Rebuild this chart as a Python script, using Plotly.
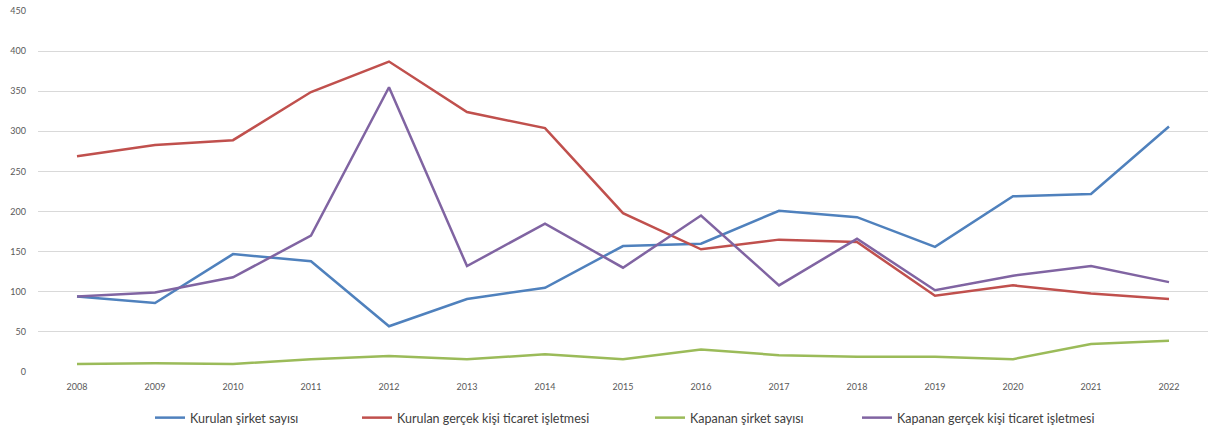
import plotly.graph_objects as go

years = ["2008", "2009", "2010", "2011", "2012", "2013", "2014", "2015",
         "2016", "2017", "2018", "2019", "2020", "2021", "2022"]

kurulan_sirket = [94, 86, 147, 138, 57, 91, 105, 157, 160, 201, 193, 156, 219, 222, 306]
kurulan_gercek = [269, 283, 289, 349, 387, 324, 304, 198, 153, 165, 162, 95, 108, 98, 91]
kapanan_sirket = [10, 11, 10, 16, 20, 16, 22, 16, 28, 21, 19, 19, 16, 35, 39]
kapanan_gercek = [94, 99, 118, 170, 355, 132, 185, 130, 195, 108, 166, 102, 120, 132, 112]

series_names = ["Kurulan şirket sayısı", "Kurulan gerçek kişi ticaret işletmesi",
                "Kapanan şirket sayısı", "Kapanan gerçek kişi ticaret işletmesi"]
series_values = [kurulan_sirket, kurulan_gercek, kapanan_sirket, kapanan_gercek]
colors = ["#4F81BD", "#C0504D", "#9BBB59", "#8064A2"]
legend_ids = ["legend", "legend2", "legend3", "legend4"]
legend_text_px = [190, 397, 690, 897]

W, H = 1208, 430
ML, MR, MT, MB = 38, 0, 11, 58

fig = go.Figure()
for name, vals, col, lg in zip(series_names, series_values, colors, legend_ids):
    fig.add_trace(go.Scatter(
        x=years, y=vals, name=name, mode="lines",
        line=dict(color=col, width=2.5),
        legend=lg,
    ))

font = dict(family="Lato, 'Open Sans', sans-serif", size=12.5, color="#404040")
layout_legends = {}
for lg, px in zip(legend_ids, legend_text_px):
    layout_legends[lg] = dict(
        x=(px - 40) / W, xanchor="left", xref="container",
        y=1 - 418 / H, yanchor="middle", yref="container",
        orientation="h", bgcolor="rgba(0,0,0,0)", borderwidth=0,
        font=font, itemwidth=30,
    )

fig.update_layout(
    width=W, height=H,
    margin=dict(l=ML, r=MR, t=MT, b=MB, autoexpand=False),
    paper_bgcolor="white", plot_bgcolor="white",
    showlegend=True,
    font=dict(family="Lato, 'Open Sans', sans-serif", size=9, color="#595959"),
    xaxis=dict(
        type="category", range=[-0.5, 14.5], showgrid=False, zeroline=False,
        showline=False, ticks="", ticklabelstandoff=8, automargin=False,
        tickfont=dict(size=9, color="#595959"),
    ),
    yaxis=dict(
        range=[0, 450], dtick=50, showgrid=True, gridcolor="#D9D9D9", gridwidth=1,
        zeroline=False, showline=False, ticks="", ticklabelstandoff=11, automargin=False,
        tickfont=dict(size=9, color="#595959"),
    ),
    **layout_legends,
)

fig.write_html(
    "out.html",
    config={"displayModeBar": False},
    post_script="document.body.style.margin='0';document.body.style.padding='0';",
)
